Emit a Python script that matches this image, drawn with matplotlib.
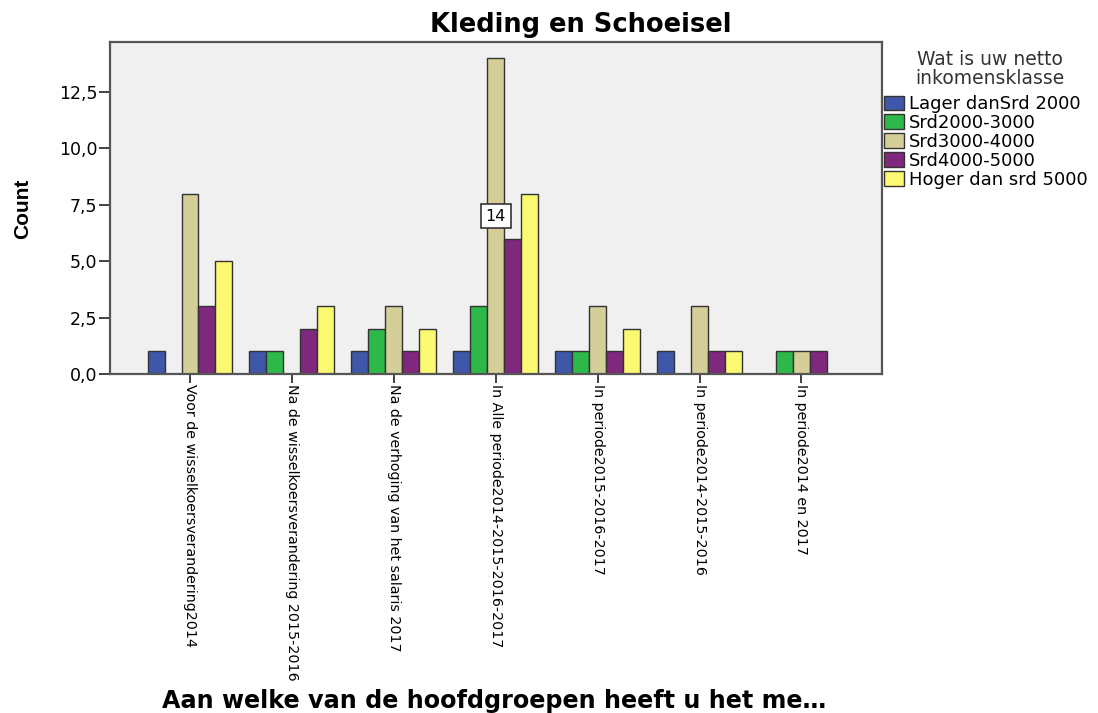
import matplotlib
matplotlib.use("Agg")
import matplotlib.pyplot as plt
import numpy as np
from matplotlib.ticker import FuncFormatter

# data
groepen = [
    "Voor de wisselkoersverandering2014",
    "Na de wisselkoersverandering 2015-2016",
    "Na de verhoging van het salaris 2017",
    "In Alle periode2014-2015-2016-2017",
    "In periode2015-2016-2017",
    "In periode2014-2015-2016",
    "In periode2014 en 2017",
]
klassen = ["Lager danSrd 2000", "Srd2000-3000", "Srd3000-4000",
           "Srd4000-5000", "Hoger dan srd 5000"]
lager = [1, 1, 1, 1, 1, 1, 0]
srd2_3 = [0, 1, 2, 3, 1, 0, 1]
srd3_4 = [8, 0, 3, 14, 3, 3, 1]
srd4_5 = [3, 2, 1, 6, 1, 1, 1]
hoger = [5, 3, 2, 8, 2, 1, 0]
kleuren = ["#3E57A8", "#2DB84A", "#D4CF98", "#7E287E", "#FBF872"]

reeksen = [lager, srd2_3, srd3_4, srd4_5, hoger]

fig = plt.figure(figsize=(10.98, 7.13), dpi=100)
ax = fig.add_axes([110 / 1098, 1 - 374 / 713, 772 / 1098, 332 / 713])
ax.set_facecolor("#F0F0F0")

x = np.arange(len(groepen))
breedte = 0.1667
for i, (vals, kleur, naam) in enumerate(zip(reeksen, kleuren, klassen)):
    pos = x + (i - 2) * breedte
    hoogte = np.array(vals, dtype=float)
    mask = hoogte > 0
    ax.bar(pos[mask], hoogte[mask], width=breedte, color=kleur,
           edgecolor="#333333", linewidth=1.0, label=naam)

# label in the tallest bar
imax = int(np.argmax(srd3_4))
ax.text(x[imax], srd3_4[imax] / 2, str(srd3_4[imax]), ha="center", va="center",
        fontsize=11.5, family="DejaVu Sans",
        bbox=dict(boxstyle="square,pad=0.3", fc="white", ec="#333333", lw=1.2))

ax.set_xlim(-0.785, 6.79)
ax.set_ylim(0, 14.72)
ax.set_yticks([0, 2.5, 5, 7.5, 10, 12.5])
ax.yaxis.set_major_formatter(FuncFormatter(lambda v, p: f"{v:.1f}".replace(".", ",")))
ax.set_xticks(x)
ax.set_xticklabels(groepen, rotation=270, ha="center", va="top", fontsize=10.3)
ax.tick_params(axis="y", labelsize=12.5, color="#333333", length=8, width=1.3, pad=1)
ax.tick_params(axis="x", color="#333333", length=6.5, width=1.3, pad=0.5)
for s in ax.spines.values():
    s.set_color("#555555")
    s.set_linewidth(1.6)

fig.text(23 / 1098, 1 - 209 / 713, "Count", rotation=90, ha="center", va="center",
         fontsize=15, fontweight="bold", family="Liberation Sans")

fig.text(581 / 1098, 1 - 25 / 713, "Kleding en Schoeisel", ha="center", va="center",
         fontsize=18.5, fontweight="bold")
fig.text(494 / 1098, 1 - 701 / 713, "Aan welke van de hoofdgroepen heeft u het me…",
         ha="center", va="center", fontsize=17.2, fontweight="bold")

# legend title as separate text, entries below it
fig.text(990 / 1098, 1 - 69 / 713, "Wat is uw netto\ninkomensklasse",
         ha="center", va="center", multialignment="center",
         fontsize=13.5, color="#333333", linespacing=1.0)
leg = fig.legend(loc="upper left", bbox_to_anchor=(884 / 1098, 1 - 95 / 713),
                 frameon=False, fontsize=13, handlelength=1.1,
                 handleheight=0.85, handletextpad=0.3, labelspacing=0.05,
                 borderaxespad=0.0, borderpad=0.0)

fig.savefig("out.png", dpi=100)
